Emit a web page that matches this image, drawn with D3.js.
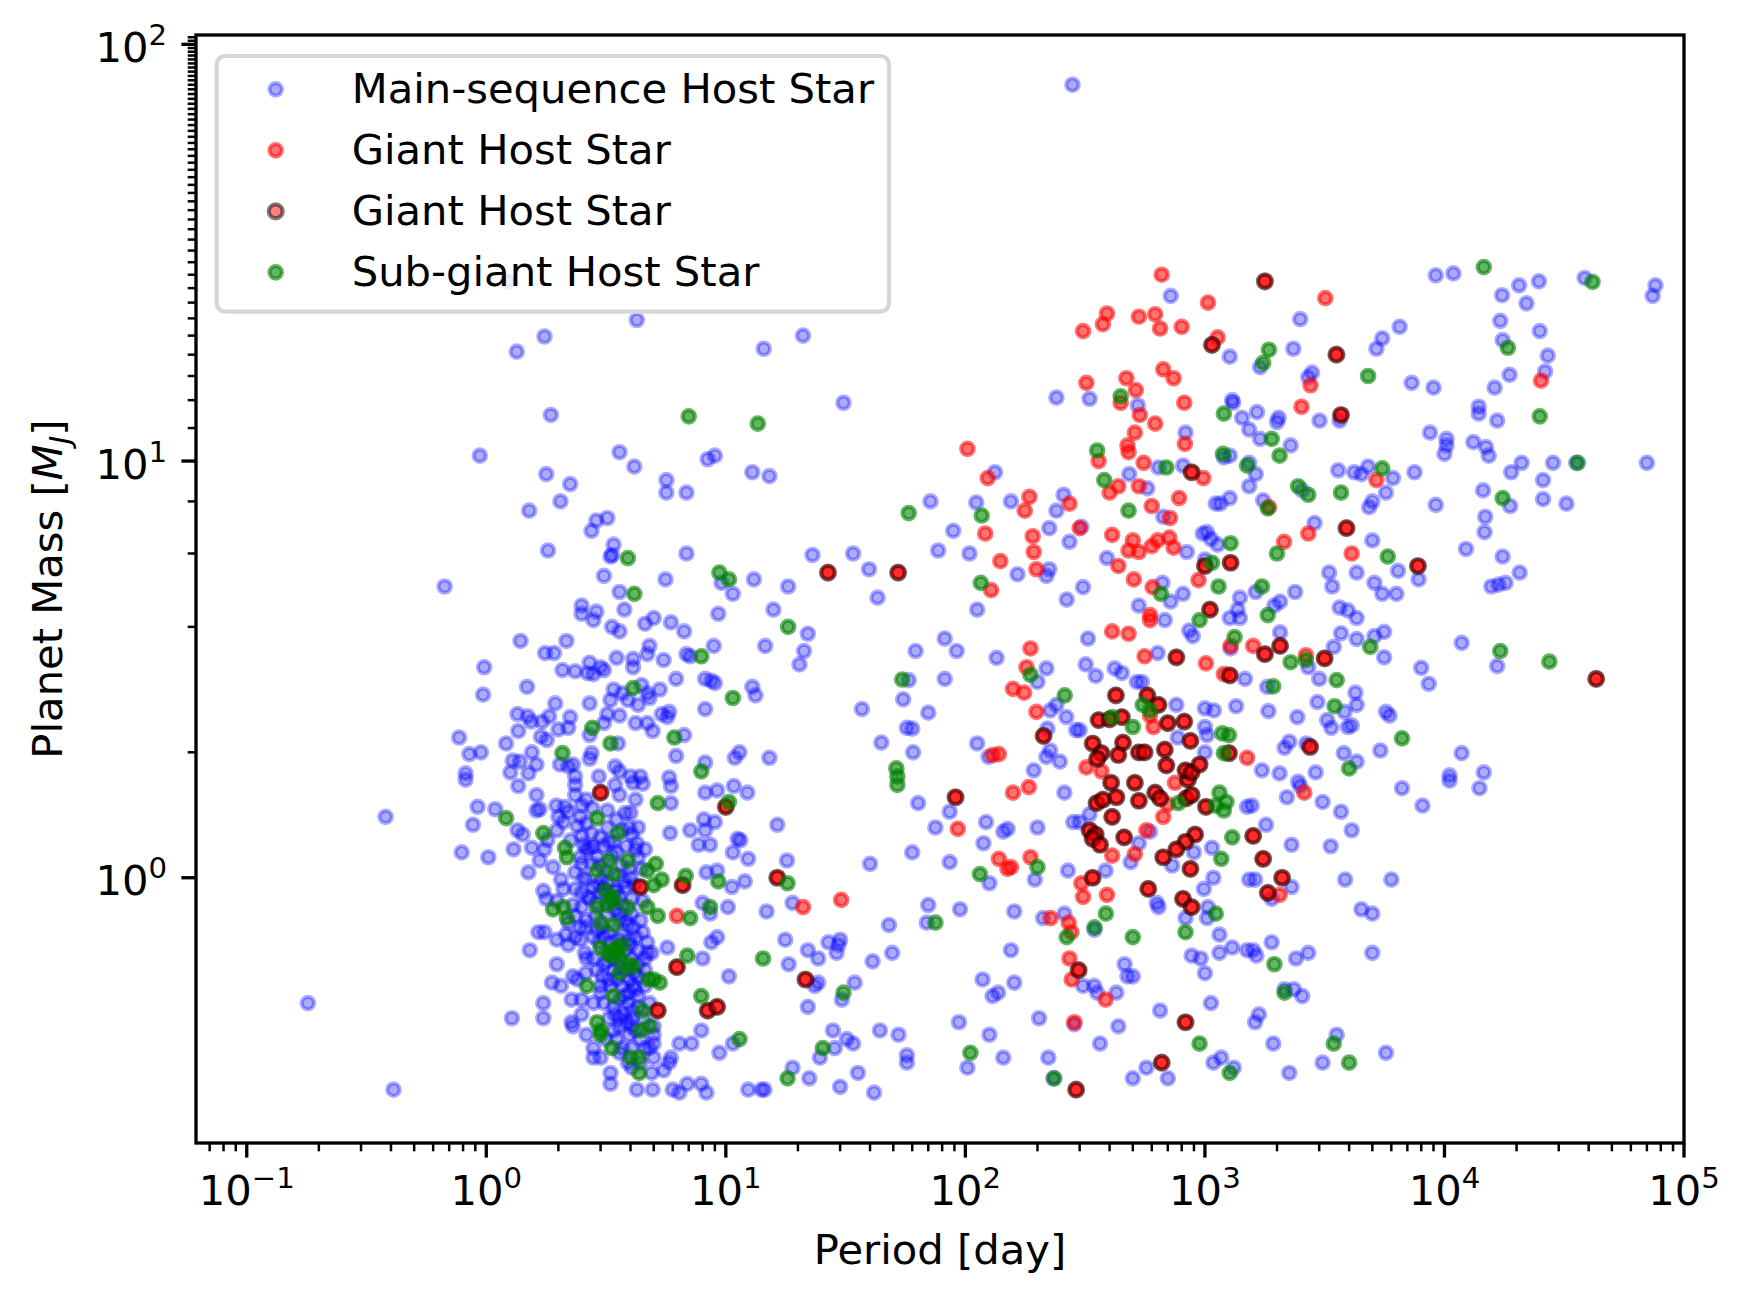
<!DOCTYPE html>
<html>
<head>
<meta charset="utf-8">
<script src="https://cdn.jsdelivr.net/npm/d3@7"></script>
<style>
  body { margin: 0; background: #fff; }
  text { font-family: "DejaVu Sans", sans-serif; fill: #000; }
</style>
</head>
<body>
<div id="chart"></div>
<script>
// Planet mass vs orbital period, split by host star type
// every point is [period in days, mass in Jupiter masses]

const mainSequence = [
  [0.18,0.50],[0.41,0.31],[0.38,1.40],[0.94,10.3],[1.34,18.3],[1.75,19.9],[1.86,12.9],[4.25,21.8],[21,20],[14.4,18.6],
  [31,13.8],[280,80],[3.6,10.5],[4.15,9.7],[8.4,10.1],[9.0,10.3],[12.9,9.4],[15.2,9.2],[1.23,27],
  [1.78,9.3],[2.24,8.8],[2.04,8.0],[1.51,7.6],[5.65,9.0],[5.65,8.4],[6.85,8.4],[2.88,7.2],[3.2,7.3],[2.75,6.8],
  [3.4,6.3],[3.35,5.95],[3.3,5.9],[1.81,6.1],[6.85,6.0],[3.1,5.3],[5.6,5.2],[0.67,5.0],[3.6,4.85],[3.77,4.4],
  [2.5,4.5],[2.5,4.3],[2.88,4.35],[2.8,4.15],[4.6,4.07],[5.0,4.2],[5.9,4.1],[6.7,3.9],[3.35,4.0],[3.6,3.9],
  [1.39,3.7],[2.16,3.7],[1.76,3.46],[1.92,3.46],[4.8,3.6],[4.7,3.44],[3.5,3.37],[4.1,3.35],[4.1,3.2],[5.5,3.33],
  [6.85,3.44],[6.2,3.0],[0.98,3.2],[0.97,2.75],[1.48,2.87],[2.08,3.15],[2.35,3.13],[2.7,3.28],[2.65,3.1],[2.8,3.08],
  [3.0,3.2],[3.1,3.15],[3.4,2.83],[3.7,2.77],[4.45,2.9],[4.7,2.77],[4.8,2.7],[5.3,2.83],[3.3,2.67],[3.9,2.67],
  [4.3,2.6],[2.7,2.62],[1.94,2.62],[1.35,2.47],[1.49,2.44],[1.54,2.37],[1.71,2.37],[1.83,2.44],[2.24,2.43],[1.36,2.25],
  [1.69,2.18],[1.79,2.14],[2.0,2.27],[2.2,2.29],[2.7,2.2],[3.1,2.35],[3.2,2.47],[3.6,2.45],[4.2,2.35],[4.7,2.35],
  [4.95,2.25],[5.4,2.47],[5.8,2.5],[5.7,2.43],[3.55,2.1],[6.7,2.2],[0.77,2.17],[0.85,1.98],[0.95,2.0],[1.21,2.1],
  [1.55,2.0],[2.75,1.99],[2.7,1.93],[6.2,1.96],[0.82,1.78],[1.29,1.91],[1.38,1.9],[1.62,1.87],[1.26,1.79],[1.5,1.78],
  [2.03,1.87],[2.2,1.85],[2.3,1.87],[3.45,1.85],[3.6,1.8],[2.95,1.75],[2.35,1.75],[4.0,1.75],[4.4,1.75],[5.8,1.74],
  // short-period cluster
  [0.82,1.72],[1.36,1.66],[1.62,1.58],[2.35,1.67],[2.35,1.58],[3.45,1.67],[3.6,1.58],[4.1,1.69],[4.5,1.68],[4.2,1.54],
  [5.9,1.66],[5.9,1.51],[8.2,1.6],[9.2,1.62],[10.8,1.66],[12.3,1.6],[0.92,1.48],[1.09,1.46],[0.88,1.34],[1.62,1.45],
  [1.67,1.46],[1.96,1.49],[2.13,1.48],[2.2,1.44],[2.5,1.49],[2.77,1.47],[3.2,1.32],[3.8,1.43],[4.0,1.43],[3.95,1.32],
  [1.35,1.3],[1.42,1.27],[1.55,1.18],[1.3,1.17],[0.79,1.15],[1.02,1.12],[2.1,1.36],[2.4,1.33],[2.5,1.26],[2.7,1.18],
  [2.55,1.2],[2.8,1.19],[3.0,1.25],[4.25,1.21],[4.2,1.17],[1.67,1.1],[1.9,1.06],[1.5,1.03],[2.5,1.08],[4.0,1.0],
  [8.3,1.03],[9.2,1.04],[10.6,0.95],[12,0.98],[10.7,1.15],[12.4,1.11],[11.5,1.23],[11.2,1.24],[18,1.1],[16.4,1.34],
  [9.0,1.36],[8.1,1.38],[7.1,1.3],[8.2,1.3],[7.7,1.2],[8.6,1.2],[5.85,1.28],[2.1,0.94],[1.73,0.93],[1.78,0.89],
  [2.35,0.94],[2.5,0.92],[2.8,0.95],[3.0,0.92],[3.1,0.94],[3.4,0.93],[3.6,0.9],[2.3,0.86],[2.5,0.85],[3.6,0.79],
  [8.0,0.87],[8.6,0.82],[10.2,0.85],[14.8,0.83],[19,0.87],[1.65,0.74],[1.75,0.74],[1.52,0.67],[2.15,0.73],[2.2,0.69],
  [2.35,0.72],[2.58,0.66],[2.6,0.76],[2.8,0.72],[3.1,0.72],[3.95,0.71],[4.5,0.74],[4.3,0.67],[4.7,0.66],[4.9,0.66],
  [5.7,0.68],[8.0,0.64],[8.7,0.7],[9.2,0.72],[10.3,0.58],[17.7,0.71],[18.3,0.62],[1.97,0.62],[2.3,0.58],[1.88,0.56],
  [2.6,0.59],[3.0,0.55],[3.4,0.6],[4.3,0.58],[3.95,0.53],[3.0,0.53],[3.6,0.51],[4.3,0.52],[4.1,0.55],[2.27,0.51],
  [2.5,0.51],[2.8,0.5],[3.1,0.5],[3.4,0.49],[4.05,0.48],[1.73,0.5],[1.28,0.46],[1.73,0.46],[2.27,0.45],[2.3,0.44],
  [3.4,0.43],[3.6,0.44],[4.05,0.46],[3.95,0.42],[5.0,0.44],[5.0,0.4],[4.8,0.39],[2.8,0.37],[3.0,0.37],[4.05,0.35],
  [3.3,0.34],[3.3,0.32],[4.25,0.31],[4.95,0.31],[4.9,0.34],[5.5,0.345],[5.8,0.36],[5.9,0.37],[6.4,0.4],[7.2,0.4],
  [7.9,0.43],[9.4,0.38],[10.7,0.4],[6.0,0.31],[6.4,0.305],[6.9,0.32],[7.9,0.32],[8.3,0.305],[12.4,0.31],[14.1,0.31],
  [14.5,0.31],[19,0.35],
  [2.47,1.4],[2.62,1.35],[2.75,1.28],[2.62,1.17],[3.08,1.19],[3.25,1.22],[3.5,1.15],[3.84,1.19],[4.05,1.27],[3.67,1.07],
  [3.03,0.99],[3.2,0.97],[3.5,0.93],[3.84,0.95],[4.05,0.89],[2.7,0.89],[2.9,0.87],[3.2,0.82],[3.6,0.82],[4.05,0.82],
  [3.84,0.79],[2.62,0.79],[2.47,0.76],[2.9,0.75],[3.25,0.74],[3.7,0.73],[4.2,0.72],[4.7,0.7],[2.8,0.64],[4.05,0.64],
  [4.3,0.62],[4.6,0.6],[3.1,0.62],[3.25,0.57],[3.7,0.55],[3.95,0.57],[4.6,0.55],[4.3,0.49],[3.75,0.47],[3.6,0.46],
  [4.05,0.44],[4.55,0.46],[5.0,0.42],[3.5,0.41],[3.7,0.39],[4.05,0.39],[4.6,0.39],[5.0,0.37],[2.8,0.39],[2.62,0.42],
  [2.5,0.47],[2.05,0.55],[2.4,0.57],[2.62,0.64],[1.97,0.71],[2.47,0.71],[2.2,0.78],[2.35,0.81],[1.97,0.88],[2.05,0.99],
  [2.35,1.03],[2.62,0.99],[2.75,1.08],[2.47,1.12],[3.0,1.07],[4.3,1.12],[4.6,1.17],[4.3,1.32],[3.5,1.38],[3.2,1.45],
  [2.62,1.54],[2.0,1.4],[1.8,1.23],[1.75,1.17],[1.97,1.3],[2.25,1.23],
  [2.9,1.12],[3.15,1.04],[3.35,1.13],[3.55,1.01],[3.75,0.98],[3.95,1.05],[4.15,0.96],[2.95,0.96],[3.3,0.88],[3.45,0.84],
  [3.7,0.86],[3.9,0.77],[4.1,0.76],[2.85,0.81],[3.05,0.76],[3.3,0.7],[3.55,0.71],[3.8,0.67],[4.0,0.69],[2.95,0.7],
  [3.2,0.63],[3.45,0.64],[3.65,0.61],[3.85,0.6],[4.15,0.59],[2.9,0.6],[3.05,0.58],[3.3,0.55],[3.5,0.57],[3.75,0.52],
  [3.9,0.5],[4.2,0.54],[3.25,0.46],[3.45,0.47],[3.85,0.45],[4.2,0.43],[3.15,0.41],[3.6,0.38],[3.9,0.36],[4.4,0.41],
  [4.45,1.05],[4.5,0.88],[4.4,0.79],[2.65,0.9],[2.55,1.0],[4.6,0.64],[4.8,0.5],[4.4,0.36],[3.4,1.22],[3.7,1.3],
  // 20 - 2000 days
  [63.5,1.51],[86,1.44],[259,1.6],[75,1.32],[122,1.36],[144,1.29],[150,1.31],[119,1.21],[200,1.32],[60,1.15],
  [40,1.08],[86,1.09],[126,0.97],[195,0.99],[268,1.04],[70,0.86],[69,0.78],[95,0.84],[48,0.77],[160,0.83],
  [211,0.8],[259,0.82],[346,0.75],[26.8,0.7],[30,0.71],[29.5,0.69],[22,0.67],[24.3,0.64],[29,0.66],[41,0.63],
  [49.5,0.66],[155,0.67],[24.3,0.56],[23.5,0.55],[30.5,0.51],[34.5,0.56],[22,0.49],[118,0.57],[130,0.52],[137,0.53],
  [160,0.56],[310,0.55],[345,0.55],[355,0.53],[427,0.53],[462,0.62],[475,0.58],[500,0.58],[650,0.48],[1060,0.5],
  [570,0.35],[500,0.33],[700,0.33],[1085,0.36],[1170,0.37],[1320,0.35],[285,0.445],[435,0.44],[365,0.4],[203,0.46],
  [222,0.37],[233,0.33],[94,0.45],[126,0.42],[102,0.35],[144,0.37],[28,0.43],[32,0.41],[34,0.4],[28.5,0.39],
  [24.7,0.37],[22.3,0.33],[30,0.315],[35.6,0.34],[41.6,0.305],[44,0.43],[52.6,0.42],[57,0.375],[57,0.36],
  [282,1.36],[300,1.36],[330,1.42],[385,1.04],[490,1.09],[530,1.21],[590,1.29],[1070,1.18],[900,1.15],[730,1.07],
  [1085,1.0],[990,0.94],[1030,0.85],[1020,0.8],[630,0.87],[640,0.85],[830,0.8],[1150,0.73],[880,0.65],[960,0.64],
  [1150,0.66],[1300,0.68],[1500,0.67],[1000,0.59],[1500,1.48],[1530,0.99],
  [2200,1.56],[2500,1.66],[2450,1.7],[3100,1.52],[3700,1.44],[4100,1.3],[1800,1.34],[1570,1.49],[2300,1.2],[3350,1.19],
  [6650,1.64],[8100,1.49],[10500,1.71],[14000,1.64],[1620,0.99],[2300,0.95],[1900,0.89],[3850,0.99],[6000,0.99],[4500,0.84],
  [5000,0.82],[1900,0.7],[1590,0.67],[1640,0.65],[2400,0.64],[2700,0.66],[5000,0.66],[2150,0.54],[2350,0.54],[2550,0.52],
  [1680,0.47],[1620,0.45],[1930,0.4],[2250,0.34],[3100,0.36],[3550,0.42],[5700,0.38],
  [9.6,5.1],[10.7,4.8],[13.1,5.2],[18.2,5.0],[9.3,4.3],[15.8,4.4],[22,3.85],[21.2,3.5],[20.3,3.25],[8.9,3.6],
  [7.1,3.4],[14.6,3.6],[8.2,3.0],[9.0,2.93],[8.7,2.97],[12.9,2.87],[13.3,2.74],[8.2,2.54],[8.2,1.89],[10.9,1.94],
  [11.4,2.0],[15.2,1.94],[23,5.95],[34,6.0],[39.6,5.5],[43,4.7],[71.5,8.0],[89,6.8],[77,6.1],[104,6.0],
  [111,7.95],[133,9.4],[155,8.0],[257,8.3],[240,7.6],[224,6.9],[305,6.95],[272,6.4],[224,5.5],[218,5.3],
  [165,5.35],[112,4.4],[82,3.75],[62,3.5],[92,3.5],[135,3.37],[218,3.18],[200,2.95],[226,2.52],[240,2.6],
  [264,2.43],[290,2.26],[300,2.26],[220,2.28],[226,2.02],[218,1.95],[248,1.9],[193,1.81],[318,3.25],[350,3.05],
  [325,3.75],[265,4.65],[310,4.98],[390,5.85],[483,9.3],[525,13.6],[830,11.7],[575,8.6],[640,9.65],[810,9.75],
  [670,7.35],[840,6.05],[665,5.1],[810,4.8],[720,4.6],[530,4.5],[680,4.15],[860,3.92],[890,3.8],[635,3.46],
  [420,3.18],[450,3.1],[520,2.95],[545,2.95],[760,2.6],[770,2.17],[112,2.1],[125,1.95],[44.6,2.11],[60.5,2.0],
  [55,2.68],[57,2.29],[60,2.28],[70,2.49],[37,2.54],[58,2.98],[82,3.0],[1000,2.3],
  // long periods
  [1310,13.8],[1430,12.7],[1530,11.9],[1650,13.1],[2030,12.7],[2000,12.4],[1700,11.3],[2280,10.9],[3010,12.5],[3650,12.5],
  [1200,10.2],[1270,10.3],[1530,9.9],[1630,9.3],[1530,8.7],[1110,7.9],[1160,7.9],[1270,8.15],[1750,8.05],[2550,8.5],
  [2870,7.1],[3600,9.5],[4200,9.4],[4800,9.7],[4500,9.3],[6100,9.1],[5700,8.4],[5000,8.0],[4850,7.75],[7500,9.4],
  [8700,11.7],[10200,11.3],[10200,10.9],[10000,10.4],[13200,11.1],[14900,10.8],[15300,10.3],[13900,13.5],[13900,13.0],[16600,12.5],
  [21000,9.9],[19000,9.4],[28400,9.9],[35500,9.9],[70000,9.9],[25800,9.0],[14500,8.5],[18800,7.8],[25800,8.1],[32300,7.9],
  [9200,7.85],[14800,7.35],[14700,6.75],[12300,6.15],[17500,5.9],[20600,5.4],[15700,5.0],[16800,5.05],[18000,5.1],[7800,5.2],
  [6400,5.45],[5000,6.45],[3300,5.4],[3400,5.0],[4300,5.4],[5100,5.1],[5500,4.8],[6300,4.8],[2380,4.85],[2060,4.6],
  [1950,4.5],[1630,4.85],[1400,4.7],[1370,4.4],[1270,4.2],[1400,4.2],[2060,3.88],[1130,6.3],[1060,6.5],[1020,6.75],
  [980,6.7],[1000,5.8],[3650,4.45],[3950,4.38],[4300,4.2],[3700,3.86],[4300,3.74],[5100,3.8],[5600,3.89],[3450,3.58],
  [5600,3.38],[11800,3.66],[16600,3.22],[8000,3.19],[8600,2.92],[1280,3.55],[1470,3.0],[2700,3.2],[3000,3.0],[1820,2.87],
  [4250,2.78],[4300,2.6],[2950,2.64],[3830,2.5],[5700,2.5],[5900,2.45],[1840,2.51],[1350,2.58],[1090,2.52],[1000,2.55],
  [2430,2.43],[3240,2.39],[3370,2.29],[3950,2.3],[4100,2.32],[5400,2.02],[1020,2.2],[2650,2.1],[2150,2.05],[2250,2.12],
  [1000,2.0],[3800,1.99],[4300,1.9],[1730,1.81],[2050,1.78],[2900,1.79],[10500,1.76],[14600,1.79],[11800,1.99],
  [1270,17.8],[2500,21.9],[2340,18.6],[1700,16.8],[5500,19.7],[5200,18.6],[6500,21.0],[2700,15.9],[2800,16.3],[7300,15.4],
  [9000,15.0],[9200,27.9],[10900,28.2],[17400,25.0],[20500,26.4],[24800,27.0],[22000,23.9],[17100,21.7],[17500,19.5],[25000,20.5],
  [27000,17.9],[26300,16.4],[18700,16.1],[16200,15.0],[38500,27.5],[76000,26.4],[74000,24.9],[1300,14.0],
  [720,24.9],[240,14.2],[330,14.1]
];

const giantStars = [
  [6.25,0.81],[158,1.6],[184,1.65],[93,1.31],[138,1.11],[150,1.05],[155,1.06],[187,1.12],[30.3,0.885],[21,0.85],
  [227,0.8],[270,0.78],[277,0.74],[272,0.64],[278,0.57],[385,0.51],[285,0.45],[750,1.69],[700,1.5],[570,1.3],
  [670,1.4],[305,0.97],[310,0.9],[390,0.91],[410,1.13],[510,1.14],[2050,0.91],[2600,1.6],
  [124,9.1],[102,10.7],[121,6.7],[185,8.2],[177,7.6],[272,7.9],[300,6.9],[191,6.6],[193,6.05],[140,5.75],
  [198,5.5],[128,4.9],[187,3.55],[180,3.2],[158,2.84],[176,2.78],[198,2.5],[320,1.84],[370,1.8],[130,1.97],
  [138,1.98],[360,10.0],[400,8.4],[435,8.7],[475,10.9],[480,10.5],[510,11.7],[535,12.9],[620,12.3],[445,13.8],
  [820,13.8],[825,11.0],[555,9.9],[530,8.7],[600,7.8],[715,7.3],[780,8.15],[410,6.65],[500,6.45],[480,6.1],
  [530,6.05],[635,6.45],[600,6.25],[710,6.55],[740,6.2],[435,5.6],[505,5.2],[605,4.98],[590,4.27],[590,4.15],
  [940,5.18],[410,3.9],[480,3.85],[560,3.4],[590,2.45],[610,2.3],
  [2530,13.5],[985,9.1],[1850,7.75],[2700,6.7],[2140,6.4],[5200,9.0],[4100,6.0],[1590,3.6],[1280,3.6],[1010,3.27],
  [1200,3.08],[2640,3.42],[1500,1.94],
  [1030,24.0],[3180,24.6],[1130,19.8],[2760,15.2],[25300,15.6],
  [660,28.0],[390,22.6],[375,21.3],[310,20.5],[530,22.2],[620,22.5],[650,20.8],[800,21.0],[320,15.4],[470,15.8],
  [515,14.8],[670,16.6],[740,15.8]
];

// giants re-plotted with a dark edge
const evolvedGiants = [
  [3.0,1.6],[10.0,1.48],[4.4,0.95],[6.6,0.96],[16.4,1.0],[6.25,0.61],[5.2,0.48],[8.4,0.48],[9.2,0.49],
  [91,1.56],[21.5,0.57],[297,0.6],[830,0.45],[660,0.36],[290,0.31],[406,1.69],[510,1.69],[353,1.51],[375,1.54],
  [427,1.56],[530,1.53],[620,1.6],[650,1.55],[850,1.72],[835,1.55],[880,1.58],[1010,1.48],[410,1.4],[330,1.3],
  [350,1.27],[340,1.24],[365,1.2],[460,1.25],[910,1.27],[830,1.22],[760,1.17],[670,1.12],[870,1.05],[580,0.94],
  [810,0.89],[880,0.85],[340,1.0],[1590,1.26],[1750,1.11],[2100,1.0],[1830,0.92],
  [26.7,5.4],[52.4,5.4],[880,9.4],[212,2.19],[760,3.38],[425,2.74],[575,2.74],[640,2.6],[360,2.39],[400,2.4],
  [450,2.43],[700,2.35],[820,2.37],[340,2.1],[370,1.99],[355,1.93],[455,2.11],[435,1.97],[530,2.0],[560,2.0],
  [680,2.03],[870,2.13],[690,1.86],[830,1.81],[880,1.79],
  [3700,12.9],[1050,4.4],[1000,5.6],[1280,5.7],[7750,5.6],[3900,6.9],[43000,3.0],[2060,3.6],[1780,3.44],[1270,3.06],
  [3160,3.36],[1260,1.99],[2750,2.06],[950,1.87],
  [1780,27.0],[1070,19.0],[3540,18.0]
];

const subGiants = [
  [3.9,5.85],[4.15,4.8],[4.1,2.85],[2.77,2.29],[3.3,2.1],[6.1,2.17],[2.08,1.99],[7.0,12.8],
  [5.2,1.51],[10.3,1.52],[1.21,1.39],[2.9,1.39],[3.55,1.28],[1.73,1.28],[2.13,1.18],[2.17,1.12],[3.25,1.1],[3.9,1.1],
  [2.9,1.04],[3.4,1.02],[4.7,1.04],[5.1,1.08],[5.4,0.99],[5.0,0.96],[6.8,1.01],[9.3,0.98],[18.1,0.97],[1.9,0.84],
  [2.1,0.85],[2.17,0.8],[2.9,0.85],[3.2,0.86],[3.4,0.88],[3.0,0.78],[3.4,0.77],[3.9,0.85],[4.7,0.85],[5.2,0.81],
  [7.1,0.8],[8.6,0.85],[3.0,0.68],[3.2,0.66],[3.4,0.67],[3.55,0.66],[3.7,0.69],[6.9,0.65],[14.3,0.64],[2.63,0.55],
  [3.6,0.59],[3.95,0.62],[4.1,0.61],[4.75,0.57],[5.0,0.57],[5.3,0.56],[3.4,0.52],[4.5,0.48],[7.9,0.52],[2.9,0.45],
  [3.0,0.43],[3.0,0.42],[4.4,0.43],[4.8,0.44],[3.35,0.39],[4.0,0.37],[4.35,0.37],[4.35,0.34],[11.4,0.41],[18.1,0.33],
  [3.3,0.65],[3.5,0.68],[3.35,0.9],[3.15,0.93],[3.6,0.64],
  [52,1.67],[115,1.02],[200,1.06],[75,0.78],[265,0.72],[346,0.76],[386,0.82],[500,0.72],[31,0.53],[950,0.4],
  [1270,0.34],[25.4,0.39],[105,0.38],[235,0.33],[775,1.51],[1110,1.49],[1150,1.6],[1230,1.52],[1200,1.45],[1300,1.25],
  [1170,1.11],[1110,0.82],[830,0.74],[1950,0.62],[2150,0.53],[3450,0.4],[4000,0.36],
  [13.6,12.3],[9.4,5.4],[10.3,5.2],[18.2,4.0],[7.9,3.4],[10.7,2.7],[7.9,1.8],[58,7.5],[117,7.4],[116,5.1],
  [187,3.07],[260,2.74],[380,9.0],[355,10.6],[690,9.65],[480,7.6],[655,4.8],[950,4.15],[550,2.6],[590,2.52],
  [410,2.43],[500,2.3],[51.5,1.83],[52,1.75],[54.5,2.99],
  [1200,13.0],[1900,11.3],[1190,10.4],[1500,9.75],[2050,10.3],[1830,7.7],[2450,8.7],[2700,8.3],[2000,6.0],[3700,8.4],
  [5500,9.6],[25000,12.8],[36000,9.9],[17500,8.15],[5800,5.9],[1730,5.0],[1830,4.27],[1140,5.0],[1070,5.7],[1280,6.35],
  [4900,3.58],[17100,3.5],[27400,3.3],[1330,3.78],[2640,3.33],[2280,3.29],[3550,2.98],[1930,2.88],[3480,2.58],[6650,2.16],
  [1180,2.22],[1260,2.2],[1200,1.99],[4000,1.83],
  [1850,18.5],[1750,17.2],[4800,16.0],[14600,29.2],[18400,18.7],[41500,26.9],[445,14.3]
];

const xDecades = [-1, 0, 1, 2, 3, 4, 5];
const yDecades = [0, 1, 2];
const legendLabels = ["Main-sequence Host Star", "Giant Host Star", "Giant Host Star", "Sub-giant Host Star"];

// figure geometry (300 dpi matplotlib figure)
const W = 1749, H = 1301;
const plot = { left: 196, right: 1684, top: 35, bottom: 1143 };
const fontPx = 41.7;
const markerR = 6.25, markerEdge = 4.17;
const darkR = 7.0;

const svg = d3.select("#chart")
  .append("svg")
  .attr("width", W)
  .attr("height", H);

svg.append("rect").attr("width", W).attr("height", H).attr("fill", "#fff");

const xScale = d3.scaleLog()
  .domain([0.0614, 1e5])
  .range([plot.left, plot.right]);

const yScale = d3.scaleLog()
  .domain([0.2309, 105.3])
  .range([plot.bottom, plot.top]);

svg.append("clipPath")
  .attr("id", "plot-clip")
  .append("rect")
  .attr("x", plot.left)
  .attr("y", plot.top)
  .attr("width", plot.right - plot.left)
  .attr("height", plot.bottom - plot.top);

const pts = svg.append("g").attr("clip-path", "url(#plot-clip)");

// one series of markers; the edge overlaps the fill, as in matplotlib
function drawSeries(data, fill, edge, alpha, r, edgeAlpha) {
  pts.append("g")
    .selectAll("circle")
    .data(data)
    .enter()
    .append("circle")
    .attr("cx", (d) => xScale(d[0]))
    .attr("cy", (d) => yScale(d[1]))
    .attr("r", r)
    .attr("fill", fill)
    .attr("fill-opacity", alpha)
    .attr("stroke", edge)
    .attr("stroke-opacity", edgeAlpha)
    .attr("stroke-width", markerEdge);
}

drawSeries(mainSequence, "blue", "blue", 0.33, markerR, 0.33);
drawSeries(giantStars.concat(evolvedGiants), "red", "red", 0.55, markerR, 0.55);
drawSeries(evolvedGiants, "red", "black", 0.6, darkR, 0.5);
drawSeries(subGiants, "green", "green", 0.6, markerR, 0.6);

// axes frame
svg.append("rect")
  .attr("x", plot.left)
  .attr("y", plot.top)
  .attr("width", plot.right - plot.left)
  .attr("height", plot.bottom - plot.top)
  .attr("fill", "none")
  .attr("stroke", "#000")
  .attr("stroke-width", 3.33);

// ticks
const majorLen = 14.6, minorLen = 8.3;
const isPow10 = (v) => Math.abs(Math.log10(v) - Math.round(Math.log10(v))) < 1e-6;

const xMinor = xScale.ticks(60).filter((v) => !isPow10(v));
const yMinor = yScale.ticks(60).filter((v) => !isPow10(v));

const axes = svg.append("g");

axes.selectAll(".xminor")
  .data(xMinor)
  .enter()
  .append("line")
  .attr("x1", (d) => xScale(d)).attr("x2", (d) => xScale(d))
  .attr("y1", plot.bottom).attr("y2", plot.bottom + minorLen)
  .attr("stroke", "#000").attr("stroke-width", 2.5);

axes.selectAll(".xmajor")
  .data(xDecades)
  .enter()
  .append("line")
  .attr("x1", (d) => xScale(Math.pow(10, d))).attr("x2", (d) => xScale(Math.pow(10, d)))
  .attr("y1", plot.bottom).attr("y2", plot.bottom + majorLen)
  .attr("stroke", "#000").attr("stroke-width", 3.33);

axes.selectAll(".yminor")
  .data(yMinor)
  .enter()
  .append("line")
  .attr("y1", (d) => yScale(d)).attr("y2", (d) => yScale(d))
  .attr("x1", plot.left).attr("x2", plot.left - minorLen)
  .attr("stroke", "#000").attr("stroke-width", 2.5);

axes.selectAll(".ymajor")
  .data(yDecades)
  .enter()
  .append("line")
  .attr("y1", (d) => yScale(Math.pow(10, d))).attr("y2", (d) => yScale(Math.pow(10, d)))
  .attr("x1", plot.left).attr("x2", plot.left - majorLen)
  .attr("stroke", "#000").attr("stroke-width", 3.33);

// 10^k labels with superscript exponent
function powLabel(sel, k) {
  sel.append("tspan").text("10");
  sel.append("tspan")
    .attr("dy", -17)
    .attr("font-size", fontPx * 0.7)
    .text(String(k).replace("-", "\u2212"));
}

xDecades.forEach((k) => {
  const t = axes.append("text")
    .attr("x", xScale(Math.pow(10, k)))
    .attr("y", 1205)
    .attr("text-anchor", "middle")
    .attr("font-size", fontPx);
  powLabel(t, k);
});

yDecades.forEach((k) => {
  const t = axes.append("text")
    .attr("x", 167)
    .attr("y", yScale(Math.pow(10, k)) + 17.7)
    .attr("text-anchor", "end")
    .attr("font-size", fontPx);
  powLabel(t, k);
});

// axis labels
svg.append("text")
  .attr("x", (plot.left + plot.right) / 2)
  .attr("y", 1264)
  .attr("text-anchor", "middle")
  .attr("font-size", fontPx)
  .text("Period [day]");

const yLab = svg.append("text")
  .attr("transform", `translate(62, ${(plot.top + plot.bottom) / 2}) rotate(-90)`)
  .attr("text-anchor", "middle")
  .attr("font-size", fontPx);
yLab.append("tspan").text("Planet Mass [");
yLab.append("tspan").attr("font-style", "italic").text("M");
yLab.append("tspan").attr("font-style", "italic").attr("font-size", fontPx * 0.7).attr("dy", 8).text("J");
yLab.append("tspan").attr("dy", -8).text("]");

// legend
const legend = svg.append("g");
legend.append("rect")
  .attr("x", 216.7)
  .attr("y", 56)
  .attr("width", 672.3)
  .attr("height", 255.7)
  .attr("rx", 8.3)
  .attr("fill", "#fff")
  .attr("fill-opacity", 0.8)
  .attr("stroke", "#d6d6d6")
  .attr("stroke-width", 4.17);

const legendStyles = [
  { fill: "blue", edge: "blue", alpha: 0.33, r: markerR },
  { fill: "red", edge: "red", alpha: 0.55, r: markerR },
  { fill: "red", edge: "black", alpha: 0.5, r: darkR },
  { fill: "green", edge: "green", alpha: 0.6, r: markerR }
];

legendLabels.forEach((label, i) => {
  const cy = 89.3 + i * 61;
  const s = legendStyles[i];
  legend.append("circle")
    .attr("cx", 275.7)
    .attr("cy", cy)
    .attr("r", s.r)
    .attr("fill", s.fill)
    .attr("fill-opacity", s.alpha)
    .attr("stroke", s.edge)
    .attr("stroke-opacity", s.alpha)
    .attr("stroke-width", markerEdge);
  legend.append("text")
    .attr("x", 351.7)
    .attr("y", cy + 14)
    .attr("font-size", fontPx)
    .text(label);
});
</script>
</body>
</html>
